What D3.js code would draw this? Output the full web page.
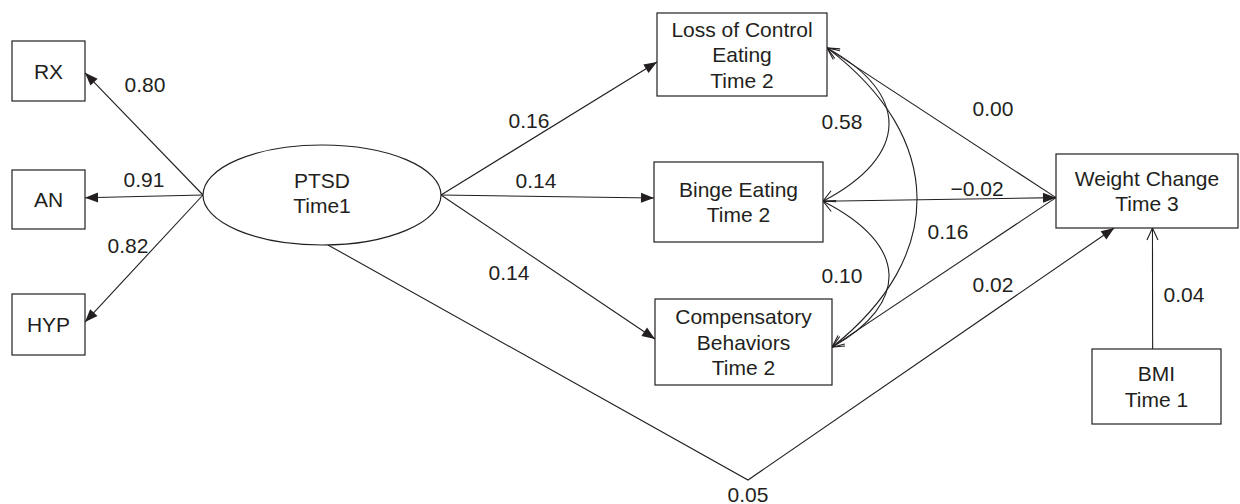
<!DOCTYPE html>
<html>
<head>
<meta charset="utf-8">
<script src="https://cdn.jsdelivr.net/npm/d3@7"></script>
<style>
  body { margin: 0; background: #fff; }
  svg text { font-family: "Liberation Sans", Arial, sans-serif; font-size: 21px; fill: #231f20; }
</style>
</head>
<body>
<div class="graph"></div>
<script>
// ---- model: nodes, directed paths, covariances ----
var nodeIds  = ["RX", "AN", "HYP", "PTSD", "LOC", "BE", "CB", "WC", "BMI"];
var nodeText = [["RX"], ["AN"], ["HYP"], ["PTSD", "Time1"],
                ["Loss of Control", "Eating", "Time 2"], ["Binge Eating", "Time 2"],
                ["Compensatory", "Behaviors", "Time 2"], ["Weight Change", "Time 3"], ["BMI", "Time 1"]];

var pathFrom = ["PTSD", "PTSD", "PTSD", "PTSD", "PTSD", "PTSD", "LOC", "BE", "CB", "PTSD", "BMI"];
var pathTo   = ["RX", "AN", "HYP", "LOC", "BE", "CB", "WC", "WC", "WC", "WC", "WC"];
var pathCoef = ["0.80", "0.91", "0.82", "0.16", "0.14", "0.14", "0.00", "\u22120.02", "0.02", "0.05", "0.04"];

var covA    = ["LOC", "BE", "LOC"];
var covB    = ["BE", "CB", "CB"];
var covCoef = ["0.58", "0.10", "0.16"];

// ---- layout (diagram geometry) ----
var boxes = {
  RX:  {x: 12,   y: 41,  w: 73,  h: 60},
  AN:  {x: 12,   y: 170, w: 73,  h: 59},
  HYP: {x: 12,   y: 294, w: 73,  h: 61},
  LOC: {x: 657,  y: 13,  w: 170, h: 83},
  BE:  {x: 654,  y: 162, w: 169, h: 80},
  CB:  {x: 655,  y: 299, w: 177, h: 86},
  WC:  {x: 1056, y: 154, w: 182, h: 74},
  BMI: {x: 1092, y: 349, w: 129, h: 75}
};
var ellipse = {PTSD: {cx: 322, cy: 195, rx: 119, ry: 50}};

// [from side, from frac, to side, to frac, head, bend]
var pathAnchors = [
  ["l", 0, "r", 0.53, "fill"], ["l", 0, "r", 0.47, "fill"], ["l", 0, "r", 0.46, "fill"],
  ["r", 0, "l", 0.59, "fill"], ["r", 0, "l", 0.45, "fill"], ["r", 0, "l", 0.465, "fill"],
  ["r", 0.42, "l", 0.59, "none"], ["r", 0.49, "l", 0.59, "fill"], ["r", 0.56, "l", 0.59, "none"],
  ["b", 0.05, "b", 0.32, "fill", [748, 480]],
  ["t", 0.47, "b", 0.53, "open"]
];
var pathLabelAt = [[145, 84], [144, 179], [128, 245], [529, 120], [536, 180], [509, 272],
                   [993, 108], [977, 188], [993, 284], [748, 494], [1184, 294]];

// [a frac, b frac, rightmost x]
var covAnchors = [[0.42, 0.49, 889], [0.49, 0.56, 889], [0.42, 0.56, 917]];
var covLabelAt = [[842, 121], [842, 275], [948, 231]];

var ink = "#231f20";

var W = 1240, H = 504;
var svg = d3.select(".graph").append("svg")
    .attr("width", W).attr("height", H);

var defs = svg.append("defs");
defs.append("marker")
    .attr("id", "headFill")
    .attr("markerUnits", "userSpaceOnUse")
    .attr("viewBox", "-14 -7 15 14")
    .attr("refX", 0).attr("refY", 0)
    .attr("markerWidth", 15).attr("markerHeight", 14)
    .attr("orient", "auto")
  .append("path")
    .attr("d", "M-13,-5L0,0L-13,5Z")
    .attr("fill", ink);
defs.append("marker")
    .attr("id", "headOpen")
    .attr("markerUnits", "userSpaceOnUse")
    .attr("viewBox", "-14 -7 15 14")
    .attr("refX", 0).attr("refY", 0)
    .attr("markerWidth", 15).attr("markerHeight", 14)
    .attr("orient", "auto-start-reverse")
  .append("path")
    .attr("d", "M-12,-5.5L0,0L-12,5.5")
    .attr("fill", "none")
    .attr("stroke", ink)
    .attr("stroke-width", 1.1);

function anchor(id, side, f) {
  if (ellipse[id]) {
    var e = ellipse[id];
    if (side == "l") return [e.cx - e.rx, e.cy];
    if (side == "r") return [e.cx + e.rx, e.cy];
    // bottom, f = x offset as fraction of rx
    var dx = f * e.rx;
    return [e.cx + dx, e.cy + e.ry * Math.sqrt(1 - (dx * dx) / (e.rx * e.rx))];
  }
  var b = boxes[id];
  if (side == "l") return [b.x, b.y + f * b.h];
  if (side == "r") return [b.x + b.w, b.y + f * b.h];
  if (side == "t") return [b.x + f * b.w, b.y];
  return [b.x + f * b.w, b.y + b.h];
}

var line = d3.line();

// directed paths
pathFrom.forEach(function(from, i) {
  var a = pathAnchors[i];
  var pts = [anchor(from, a[0], a[1])];
  if (a[5]) pts.push(a[5]);
  pts.push(anchor(pathTo[i], a[2], a[3]));
  var p = svg.append("path")
      .attr("d", line(pts))
      .attr("fill", "none")
      .attr("stroke", ink)
      .attr("stroke-width", 1.1);
  if (a[4] == "fill") p.attr("marker-end", "url(#headFill)");
  if (a[4] == "open") p.attr("marker-end", "url(#headOpen)");
  svg.append("text")
      .attr("x", pathLabelAt[i][0]).attr("y", pathLabelAt[i][1] + 7.5)
      .attr("text-anchor", "middle")
      .text(pathCoef[i]);
});

// covariance arcs
covA.forEach(function(a, i) {
  var c = covAnchors[i];
  var p0 = anchor(a, "r", c[0]), p3 = anchor(covB[i], "r", c[1]);
  var mid = (p0[0] + p3[0]) / 2;
  var cx = (c[2] - 0.25 * mid) / 0.75;
  var dy = p3[1] - p0[1];
  var p = d3.path();
  p.moveTo(p0[0], p0[1]);
  p.bezierCurveTo(cx, p0[1] + 0.3 * dy, cx, p3[1] - 0.3 * dy, p3[0], p3[1]);
  svg.append("path")
      .attr("d", p.toString())
      .attr("fill", "none")
      .attr("stroke", ink)
      .attr("stroke-width", 1.1)
      .attr("marker-start", "url(#headOpen)")
      .attr("marker-end", "url(#headOpen)");
  svg.append("text")
      .attr("x", covLabelAt[i][0]).attr("y", covLabelAt[i][1] + 7.5)
      .attr("text-anchor", "middle")
      .text(covCoef[i]);
});

// nodes
nodeIds.forEach(function(id, i) {
  var cx, cy;
  if (ellipse[id]) {
    var e = ellipse[id];
    svg.append("ellipse")
        .attr("cx", e.cx).attr("cy", e.cy).attr("rx", e.rx).attr("ry", e.ry)
        .attr("fill", "#fff").attr("stroke", ink).attr("stroke-width", 1.2);
    cx = e.cx; cy = e.cy - 2;
  } else {
    var b = boxes[id];
    svg.append("rect")
        .attr("x", b.x).attr("y", b.y).attr("width", b.w).attr("height", b.h)
        .attr("fill", "#fff").attr("stroke", ink).attr("stroke-width", 1.2);
    cx = b.x + b.w / 2; cy = b.y + b.h / 2;
  }
  var lines = nodeText[i], n = lines.length;
  lines.forEach(function(t, j) {
    svg.append("text")
        .attr("x", cx)
        .attr("y", cy + (j - (n - 1) / 2) * 25.5 + 7.5)
        .attr("text-anchor", "middle")
        .text(t);
  });
});
</script>
</body>
</html>
